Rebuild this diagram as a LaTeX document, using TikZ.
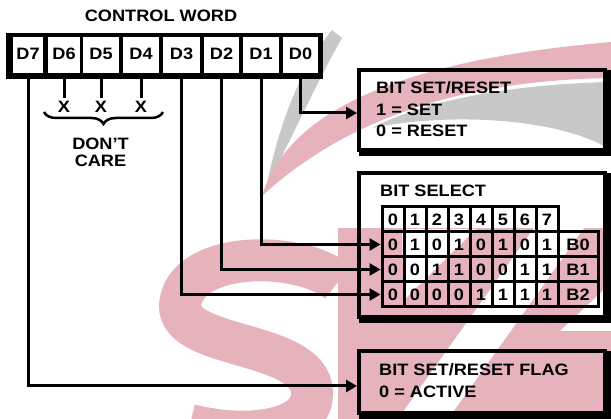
\documentclass[tikz,border=0pt]{standalone}
\usepackage{fontspec}
\setmainfont{Liberation Sans}[FakeStretch=1.1]
\usetikzlibrary{arrows.meta,calc,decorations.pathreplacing}
\definecolor{wmpink}{HTML}{E6B3BD}
\definecolor{wmgray}{HTML}{C8C8C8}
\begin{document}
\begin{tikzpicture}[x=1pt,y=-1pt,
  txt/.style={font=\fontsize{16.5}{19}\selectfont\bfseries, inner sep=0pt, text height=11.8pt, text depth=0pt},
  lbl/.style={txt, anchor=west},
  cwcell/.style={txt, fill=white, minimum height=36pt, text depth=2.5pt},
  conn/.style={line width=3pt},
  arr/.style={conn, -{Triangle[length=11pt,width=12pt]}},
  tcell/.style={txt, draw, line width=3pt, minimum width=22pt, minimum height=25pt},
  bcell/.style={tcell, minimum width=40pt},
  boxnode/.style={draw, line width=4pt, minimum width=246pt, inner sep=0pt},
  shadowline/.style={line width=4pt, line cap=rect},
]
\useasboundingbox (0,0) rectangle (611,419);

% ---- watermark (background) ----
\begin{scope}
\fill[wmgray] (266,188) .. controls (280,120) and (300,70) .. (332,30) -- (342,38) .. controls (318,80) and (298,125) .. (266,188) -- cycle;
\fill[wmgray] (611,82) .. controls (520,84) and (430,98) .. (372,128) .. controls (450,112) and (560,118) .. (611,150) -- cycle;
\fill[wmpink] (262,196) .. controls (285,120) and (380,62) .. (611,42) -- (611,78) .. controls (470,80) and (350,115) .. (262,196) -- cycle;
\draw[wmpink, line width=42pt] (338,282) .. controls (300,250) and (185,250) .. (180,305) .. controls (178,350) and (310,340) .. (312,392) .. controls (314,430) and (250,440) .. (190,425);
\fill[wmpink] (338,228) rectangle (611,419);
\fill[white] (402,229) -- (476,229) -- (404,300) -- cycle;
\fill[white] (398,419) -- (448,419) -- (584,228) -- (534,228) -- cycle;
\fill[white] (560,331) -- (611,331) -- (611,283) -- cycle;
\end{scope}

% ---- control word ----
\node[txt] (title) at (161,16) {CONTROL WORD};
\node[fill=black, minimum width=317pt, minimum height=46pt, inner sep=0pt, outer sep=0pt] (cw) at (164.5,56) {};
\node[cwcell, minimum width=30pt] (d7) at (28,55) {D7};
\node[cwcell, minimum width=32pt] (d6) at (64,55) {D6};
\node[cwcell, minimum width=36pt] (d5) at (101,55) {D5};
\node[cwcell, minimum width=36pt] (d4) at (141,55) {D4};
\node[cwcell, minimum width=37pt] (d3) at (181.5,55) {D3};
\node[cwcell, minimum width=35pt] (d2) at (221.5,55) {D2};
\node[cwcell, minimum width=36pt] (d1) at (261,55) {D1};
\node[cwcell, minimum width=35pt] (d0) at (300.5,55) {D0};

% ---- don't care ----
\node[txt] (x6) at (64,107) {X};
\node[txt] (x5) at (101,107) {X};
\node[txt] (x4) at (141,107) {X};
\draw[conn, shorten >=3pt] (d6.south) -- (x6.north);
\draw[conn, shorten >=3pt] (d5.south) -- (x5.north);
\draw[conn, shorten >=3pt] (d4.south) -- (x4.north);
\coordinate (bl) at (44,112);
\coordinate (br) at (163,112);
\draw[line width=2.5pt, decorate, decoration={brace, mirror, amplitude=12pt}] (bl) -- (br);
\node[txt] (dont) at (100.5,144) {DON’T};
\node[txt] (care) at (100.5,161) {CARE};

% ---- boxes ----
\node[boxnode, minimum height=80pt] (box1) at (482,110) {};
\draw[shadowline] ([shift={(2,4)}]box1.north east) -- ([shift={(2,2)}]box1.south east) -- ([shift={(4,2)}]box1.south west);
\node[lbl] (b1t1) at (376,88) {BIT SET/RESET};
\node[lbl] (b1t2) at (376,110) {1 = SET};
\node[lbl] (b1t3) at (376,131) {0 = RESET};

\node[boxnode, minimum height=144pt] (box2) at (482,245) {};
\draw[shadowline] ([shift={(2,4)}]box2.north east) -- ([shift={(2,2)}]box2.south east) -- ([shift={(4,2)}]box2.south west);
\node[lbl] (b2t1) at (380,191) {BIT SELECT};

\node[boxnode, minimum height=62pt] (box3) at (482,382) {};
\draw[shadowline] ([shift={(2,4)}]box3.north east) -- ([shift={(2,2)}]box3.south east) -- ([shift={(4,2)}]box3.south west);
\node[lbl] (b3t1) at (379,370) {BIT SET/RESET FLAG};
\node[lbl] (b3t2) at (379,392) {0 = ACTIVE};

% ---- table ----
\foreach \i in {0,...,7} {
  \node[tcell] (h\i) at (393+22*\i,219.5) {\i};
}
\foreach \r/\bits/\lab in {1/{0,1,0,1,0,1,0,1}/B0, 2/{0,0,1,1,0,0,1,1}/B1, 3/{0,0,0,0,1,1,1,1}/B2} {
  \foreach \b [count=\c from 0] in \bits {
    \node[tcell] (r\r c\c) at (393+22*\c,219.5+25*\r) {\b};
  }
  \node[bcell] (r\r b) at (578,219.5+25*\r) {\lab};
}

% ---- connectors ----
\coordinate (setin) at ($(box1.west)+(0,3)$);
\coordinate (flagin) at ($(box3.west)+(0,4)$);
\draw[arr] (d0.south) |- (setin);
\draw[arr] (d1.south) |- (r1c0.west);
\draw[arr] (d2.south) |- (r2c0.west);
\draw[arr] (d3.south) |- (r3c0.west);
\draw[arr] (d7.south) |- (flagin);
\end{tikzpicture}
\end{document}
